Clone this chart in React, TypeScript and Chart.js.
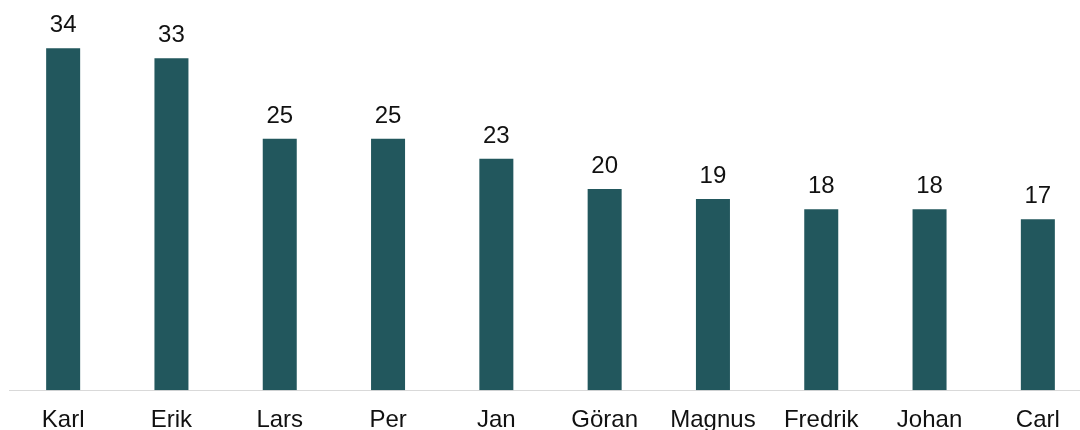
import React, { useEffect, useRef } from "react";
import { Chart, registerables } from "chart.js";

Chart.register(...registerables);

const categories = ["Karl", "Erik", "Lars", "Per", "Jan", "Göran", "Magnus", "Fredrik", "Johan", "Carl"];
const values = [34, 33, 25, 25, 23, 20, 19, 18, 18, 17];

const FONT = "'Liberation Sans', Arial, sans-serif";
const BAR_COLOR = "#22575d";

const valueLabels = {
  id: "valueLabels",
  afterDatasetsDraw(chart: any) {
    const ctx = chart.ctx;
    const meta = chart.getDatasetMeta(0);
    ctx.save();
    ctx.font = `24px ${FONT}`;
    ctx.fillStyle = "#111111";
    ctx.textAlign = "center";
    ctx.textBaseline = "alphabetic";
    meta.data.forEach((el: any, i: number) => {
      ctx.fillText(String(values[i]), el.x, el.y - 16);
    });
    ctx.restore();
  },
};

export default function App() {
  const ref = useRef<HTMLCanvasElement>(null);
  useEffect(() => {
    document.body.style.margin = "0";
    document.body.style.overflow = "hidden";
    if (!ref.current) return;
    const chart = new Chart(ref.current, {
      type: "bar",
      data: {
        labels: categories,
        datasets: [
          {
            data: values,
            backgroundColor: BAR_COLOR,
            barPercentage: 0.314,
            categoryPercentage: 1,
          },
        ],
      },
      options: {
        animation: false,
        responsive: false,
        devicePixelRatio: 1,
        layout: { padding: { left: 1, right: 0, top: 0, bottom: 0 } },
        plugins: { legend: { display: false }, tooltip: { enabled: false } },
        scales: {
          x: {
            grid: { display: false, drawTicks: false },
            border: { display: true, color: "#d9d9d9", width: 1 },
            ticks: { color: "#111111", font: { family: FONT, size: 24 }, padding: 16, maxRotation: 0, autoSkip: false },
          },
          y: { display: false, min: 0, max: 38 },
        },
      },
      plugins: [valueLabels],
    });
    return () => chart.destroy();
  }, []);
  return (
    <div
      style={{
        width: 1080,
        height: 430,
        overflow: "hidden",
        boxSizing: "border-box",
        padding: "8px 0 0 8px",
      }}
    >
      <canvas ref={ref} width={1084} height={443} style={{ display: "block" }} />
    </div>
  );
}
